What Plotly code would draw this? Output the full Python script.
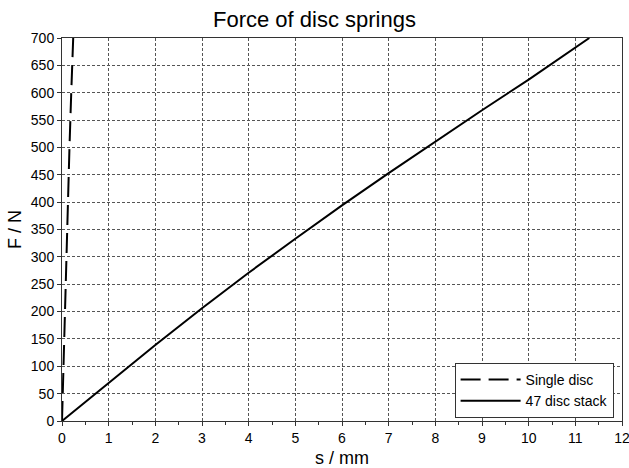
import plotly.graph_objects as go

# Data
s_stack = [0, 1, 2, 3, 4, 5, 6, 7, 8, 9, 10, 11, 11.3]
F_stack = [0, 70, 139, 206, 271, 333, 394, 453, 511, 568, 624, 682, 700]

s_single = [0, 0.030, 0.061, 0.093, 0.126, 0.160, 0.198, 0.240]
F_single = [0, 100, 200, 300, 400, 500, 600, 700]

x_ticks = list(range(0, 13))
y_ticks = list(range(0, 701, 50))

fig = go.Figure()
fig.add_trace(go.Scatter(x=s_single, y=F_single, mode="lines", name="Single disc",
                         line=dict(color="black", width=2, dash="20px,8px")))
fig.add_trace(go.Scatter(x=s_stack, y=F_stack, mode="lines", name="47 disc stack",
                         line=dict(color="black", width=2)))

font = "Liberation Sans, Arial, sans-serif"
fig.update_layout(
    width=629, height=468,
    margin=dict(l=62, r=7, t=38, b=47, autoexpand=False),
    paper_bgcolor="white", plot_bgcolor="white",
    title=dict(text="Force of disc springs", x=0.5, xanchor="center", y=0.975, yanchor="top",
               font=dict(family=font, size=22, color="black")),
    font=dict(family=font, size=12, color="black"),
    showlegend=True,
    legend=dict(x=0.985, y=0.008, xanchor="right", yanchor="bottom",
                bgcolor="white", bordercolor="#333", borderwidth=1,
                font=dict(family=font, size=14, color="black"),
                itemwidth=60, tracegroupgap=0),
    xaxis=dict(range=[0, 12], tickvals=x_ticks, showgrid=True, gridcolor="#555",
               griddash="3px,2px", gridwidth=1, zeroline=False, automargin=False,
               ticklabeloverflow="allow",
               showline=True, linecolor="#333", linewidth=1, mirror=True,
               ticks="outside", ticklen=4, tickcolor="#333",
               minor=dict(dtick=0.5, ticks="outside", ticklen=3, tickcolor="#333", showgrid=False),
               tickfont=dict(family=font, size=14, color="black"),
               title=dict(text="s / mm", font=dict(family=font, size=18, color="black"), standoff=6)),
    yaxis=dict(range=[0, 700], tickvals=y_ticks, showgrid=True, gridcolor="#555",
               griddash="3px,2px", gridwidth=1, zeroline=False, automargin=False,
               ticklabeloverflow="allow",
               showline=True, linecolor="#333", linewidth=1, mirror=True,
               ticks="outside", ticklen=4, tickcolor="#333",
               tickfont=dict(family=font, size=14, color="black"),
               title=dict(text="F / N", font=dict(family=font, size=18, color="black"), standoff=4)),
)

fig.write_html("out.html")
